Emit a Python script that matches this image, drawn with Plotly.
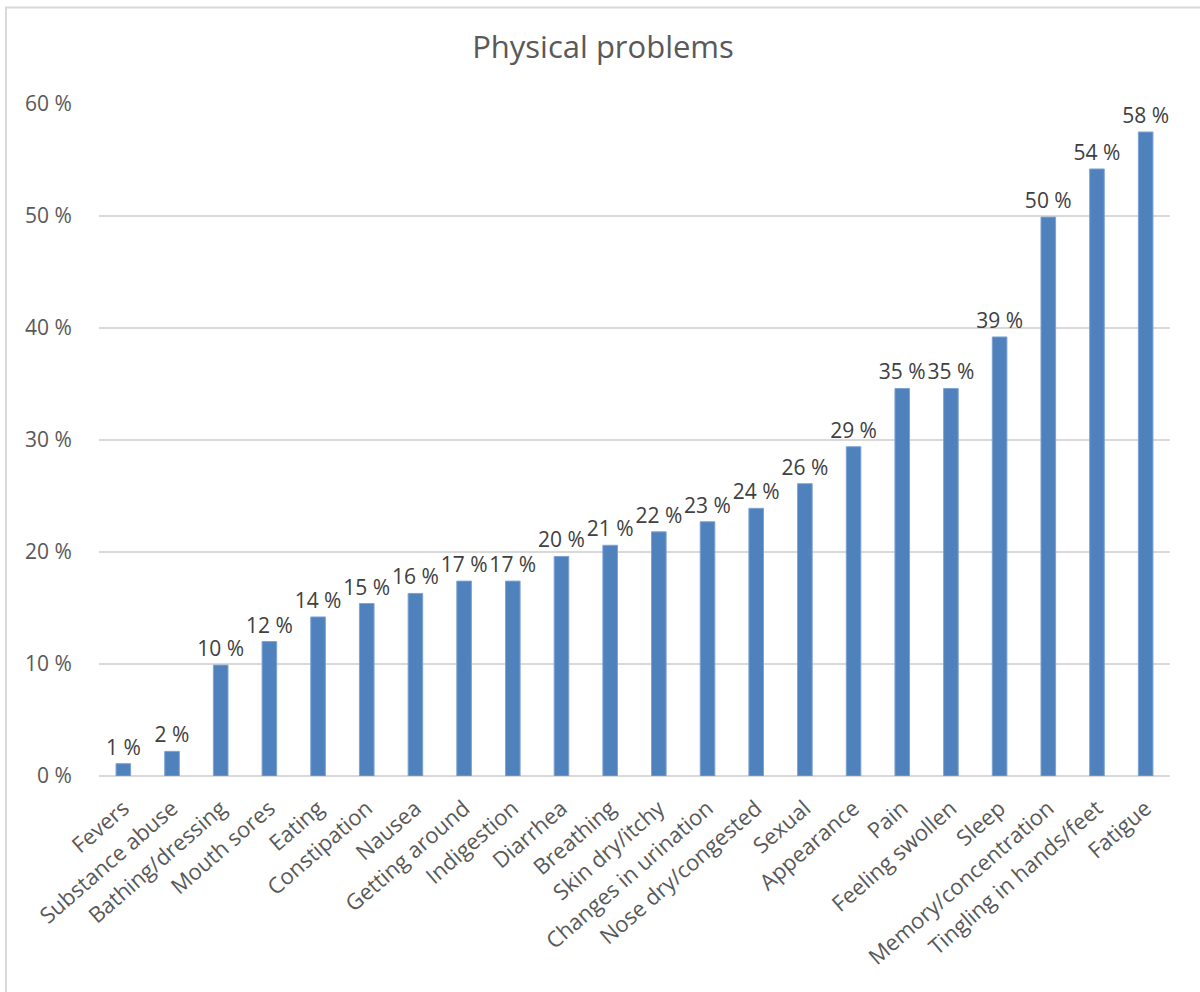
import plotly.graph_objects as go

categories = ["Fevers", "Substance abuse", "Bathing/dressing", "Mouth sores", "Eating",
              "Constipation", "Nausea", "Getting around", "Indigestion", "Diarrhea",
              "Breathing", "Skin dry/itchy", "Changes in urination", "Nose dry/congested",
              "Sexual", "Appearance", "Pain", "Feeling swollen", "Sleep",
              "Memory/concentration", "Tingling in hands/feet", "Fatigue"]
values = [1.1, 2.2, 9.9, 12.0, 14.2, 15.4, 16.3, 17.4, 17.4, 19.6, 20.6, 21.8, 22.7,
          23.9, 26.1, 29.4, 34.6, 34.6, 39.2, 49.9, 54.2, 57.5]
tick_vals = [0, 10, 20, 30, 40, 50, 60]
tick_text = [f"{v} %" for v in tick_vals]
labels = [f"{round(v)} %" for v in values]

W, H = 1200, 992
L, R, T, B = 99, 30, 104, 216
pw, ph = W - L - R, H - T - B

fig = go.Figure(go.Bar(
    x=categories, y=values, text=labels,
    textposition="outside", textangle=0, constraintext="none", cliponaxis=False,
    textfont=dict(family="Open Sans", size=21, color="#404040"),
    marker=dict(color="#4F81BD", line=dict(color="#7EA3D3", width=1)),
    width=0.3,
))

fig.update_layout(
    width=W, height=H,
    margin=dict(l=L, r=R, t=T, b=B),
    paper_bgcolor="white", plot_bgcolor="white",
    title=dict(text="Physical problems", x=603 / W, xanchor="center", xref="container",
               y=1 - 47 / H, yanchor="middle", yref="container",
               font=dict(family="Open Sans", size=31, color="#595959")),
    font=dict(family="Open Sans", color="#595959"),
    showlegend=False,
    xaxis=dict(tickangle=-41, tickfont=dict(size=22, color="#595959"), showgrid=False,
               ticks="outside", ticklen=10, tickcolor="rgba(0,0,0,0)", showline=False),
    yaxis=dict(range=[0, 60], tickvals=tick_vals, ticktext=tick_text,
               tickfont=dict(size=21, color="#595959"), showgrid=True, gridcolor="#D9D9D9",
               gridwidth=2, zeroline=True, zerolinecolor="#D9D9D9", zerolinewidth=2,
               ticks="outside", ticklen=22, tickcolor="rgba(0,0,0,0)"),
    shapes=[dict(type="rect", xref="paper", yref="paper",
                 x0=(6 - L) / pw, x1=(W + 20 - L) / pw,
                 y0=-(B + 20) / ph, y1=1 + (T - 7.5) / ph,
                 line=dict(color="#D9D9D9", width=2), fillcolor="rgba(0,0,0,0)", layer="below")],
)

fig.write_html("out.html")
